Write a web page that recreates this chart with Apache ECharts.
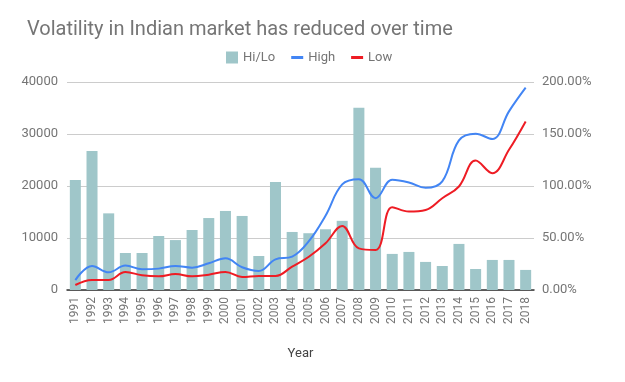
<!DOCTYPE html>
<html>
<head>
<meta charset="utf-8">
<script src="https://cdn.jsdelivr.net/npm/echarts@6/dist/echarts.min.js"></script>
<style>
html,body{margin:0;padding:0;background:#fff;}
#chart{width:625px;height:382px;}
</style>
</head>
<body>
<div id="chart"></div>
<script>
const years = ['1991','1992','1993','1994','1995','1996','1997','1998','1999','2000','2001','2002','2003','2004','2005','2006','2007','2008','2009','2010','2011','2012','2013','2014','2015','2016','2017','2018'];
// Hi/Lo volatility in percent (right axis)
const hiLo = [105.8,133.7,73.7,35.6,35.6,51.9,48.0,57.7,69.2,76.0,71.2,32.7,103.8,55.8,54.6,58.4,66.5,175.3,117.5,34.7,36.6,27.0,23.1,44.3,20.2,28.9,28.9,19.3];
// Index high (left axis)
const high = [1900,4620,3400,4690,3980,4110,4620,4300,5140,6100,4370,3660,5900,6420,9400,14300,20300,21300,17650,21190,20670,19650,20900,28760,30050,29020,34350,38900];
// Index low (left axis)
const low = [960,1930,1930,3470,2830,2630,3080,2630,2950,3470,2500,2700,2700,4500,6400,8990,12330,8000,7700,15920,15090,15400,17650,19900,24900,22470,26960,32420];
const leftTicks = [0,10000,20000,30000,40000];
const rightTicks = [0,50,100,150,200];

const chart = echarts.init(document.getElementById('chart'));
const grey = '#757575';
chart.setOption({
  animation:false,
  title:{text:'Volatility in Indian market has reduced over time',left:22,top:15,
    textStyle:{fontFamily:'Roboto',fontSize:20,fontWeight:'normal',color:grey}},
  legend:{left:221,top:46,itemWidth:12,itemHeight:12,itemGap:16,
    textStyle:{fontFamily:'Roboto',fontSize:13,color:grey},
    data:[{name:'Hi/Lo',icon:'rect'},{name:'High',icon:'path://M0,0H12V3H0Z'},{name:'Low',icon:'path://M0,0H12V3H0Z'}]},
  grid:{left:67,right:91,top:82,bottom:92},
  xAxis:{type:'category',data:years,
    axisLine:{lineStyle:{color:'#333',width:1.5}},axisTick:{show:false},
    axisLabel:{rotate:90,color:grey,fontFamily:'Roboto',fontSize:12,margin:7,interval:0},
    name:'Year',nameLocation:'middle',nameGap:57,
    nameTextStyle:{color:'#444',fontFamily:'Roboto',fontSize:13}},
  yAxis:[
    {type:'value',min:leftTicks[0],max:leftTicks[leftTicks.length-1],interval:10000,
     axisLine:{show:false},axisTick:{show:false},
     axisLabel:{color:grey,fontFamily:'Roboto',fontSize:13,margin:9,formatter:v=>String(v)},
     splitLine:{lineStyle:{color:'#cccccc'}}},
    {type:'value',min:rightTicks[0],max:rightTicks[rightTicks.length-1],interval:50,
     axisLine:{show:false},axisTick:{show:false},
     axisLabel:{color:grey,fontFamily:'Roboto',fontSize:13,margin:8,formatter:v=>v.toFixed(2)+'%'},
     splitLine:{show:false}}
  ],
  series:[
    {name:'Hi/Lo',type:'bar',yAxisIndex:1,data:hiLo,barWidth:'66%',itemStyle:{color:'#9fc6c9'}},
    {name:'High',type:'line',yAxisIndex:0,data:high,smooth:0.4,showSymbol:false,symbol:'none',
     lineStyle:{color:'#4285f4',width:2},itemStyle:{color:'#4285f4'}},
    {name:'Low',type:'line',yAxisIndex:0,data:low,smooth:0.4,showSymbol:false,symbol:'none',
     lineStyle:{color:'#ee1c24',width:2},itemStyle:{color:'#ee1c24'}}
  ]
});
</script>
</body>
</html>
